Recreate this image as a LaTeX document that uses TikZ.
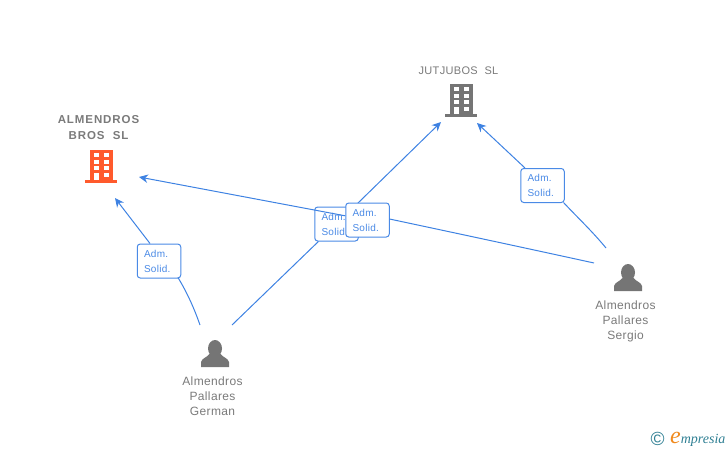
\documentclass[tikz,border=0pt]{standalone}
\usepackage{fontspec, xcolor}
\usetikzlibrary{arrows.meta}
\setmainfont{Liberation Sans}
\newfontfamily\titlefont[LetterSpace=8]{Liberation Sans}
\newfontfamily\namefont[LetterSpace=3]{Liberation Sans}
\newfontfamily\logofont{Liberation Serif}
\definecolor{linkblue}{HTML}{3E82E2}
\definecolor{boxblue}{HTML}{4A8AE6}
\definecolor{iconred}{HTML}{FF5A2C}
\definecolor{icongrey}{HTML}{757575}
\definecolor{textgrey}{HTML}{7A7A7A}
\definecolor{logoteal}{HTML}{2F7F93}
\definecolor{logoorange}{HTML}{F08A1E}
\tikzset{
    link/.style={draw=linkblue, line width=1pt},
    linkarrow/.style={link, -{Stealth[length=9pt, width=8.5pt]}},
    solidbox/.style={draw=boxblue, line width=1pt, fill=white, rounded corners=3pt, text width=30pt, minimum height=34pt, inner xsep=6.75pt, inner ysep=0pt, align=left, text=boxblue, font=\namefont\fontsize{10}{15}\selectfont},
    company/.style={align=center, text=textgrey, font=\titlefont\bfseries\fontsize{11.5}{15.5}\selectfont},
    plaincompany/.style={align=center, text=textgrey, font=\namefont\fontsize{11}{15}\selectfont},
    person/.style={align=center, text=textgrey, font=\namefont\fontsize{12}{15}\selectfont},
    buildingicon/.pic={
        \fill [#1] (-11.5,-33) rectangle (11.5,-3);
        \fill [#1] (-16,-3) rectangle (16,0);
        \foreach \row in {-30,-23.5,-17} {
            \fill [white] (-7.5,\row) rectangle (-2.5,\row+4);
            \fill [white] (2.5,\row) rectangle (7.5,\row+4);
        }
        \fill [white] (-7.5,-10.5) rectangle (-2.5,-3);
        \fill [white] (2.5,-10.5) rectangle (7.5,-6);
    },
    personicon/.pic={
        \fill [icongrey] (0,-18.5) ellipse (7 and 8.5);
        \fill [icongrey] (-14,0) -- (-14,-5) .. controls (-13,-9) and (-8,-9.5) .. (-5.5,-13) -- (5.5,-13) .. controls (8,-9.5) and (13,-9) .. (14,-5) -- (14,0) -- cycle;
    }
}
\begin{document}
\begin{tikzpicture}[x=1pt, y=-1pt]
    \useasboundingbox (0,0) rectangle (728,450);

    % companies
    \node [company] (almendros) at (98.5,127.5) {ALMENDROS\\BROS\ \ SL};
    \pic at (101,183) {buildingicon=iconred};
    \node [plaincompany] (jutjubos) at (458.5,70.5) {JUTJUBOS\ \ SL};
    \pic at (461,117) {buildingicon=icongrey};

    % people
    \pic at (215,367) {personicon};
    \node [person] (german) at (212.5,396) {Almendros\\Pallares\\German};
    \pic at (628,291) {personicon};
    \node [person] (sergio) at (625.5,321) {Almendros\\Pallares\\Sergio};

    % free ends of the links
    \coordinate (almA) at (115,198);
    \coordinate (almB) at (139,177);
    \coordinate (jutA) at (441,122);
    \coordinate (jutB) at (477,123);
    \coordinate (gerA) at (200,325);
    \coordinate (gerB) at (232,325);
    \coordinate (serA) at (594,263);
    \coordinate (serB) at (606,248);

    % labels and links
    \node [solidbox] (solidA) at (159,261) {Adm.\\Solid.};
    \node [solidbox] (solidB) at (336.5,224) {Adm.\\Solid.};
    \node [solidbox] (solidD) at (542.5,185.5) {Adm.\\Solid.};

    \draw [link] (gerA) .. controls (193,305) and (186,291) .. (178,277.5);
    \draw [linkarrow] (150,243.5) -- (almA);
    \draw [link] (gerB) -- (solidB);
    \draw [linkarrow] (solidB) -- (jutA);
    \draw [link] (serB) .. controls (592,231) and (578,218) .. (563.5,202.5);
    \draw [linkarrow] (525,168) -- (jutB);

    \node [solidbox] (solidC) at (367.5,220) {Adm.\\Solid.};
    \draw [linkarrow] (solidC) -- (almB);
    \draw [link] (serA) .. controls (530,249) and (460,234) .. (389.5,219);

    % logo
    \node [text=logoteal, font=\fontsize{19}{19}\selectfont, inner sep=0pt] (copyright) at (657.5,439) {©};
    \node [text=logoteal, font=\logofont\itshape\fontsize{14}{14}\selectfont, inner sep=0pt, anchor=base west] (logo) at (670,443) {\textcolor{logoorange}{\fontsize{24}{24}\selectfont e}mpresia};
\end{tikzpicture}
\end{document}
